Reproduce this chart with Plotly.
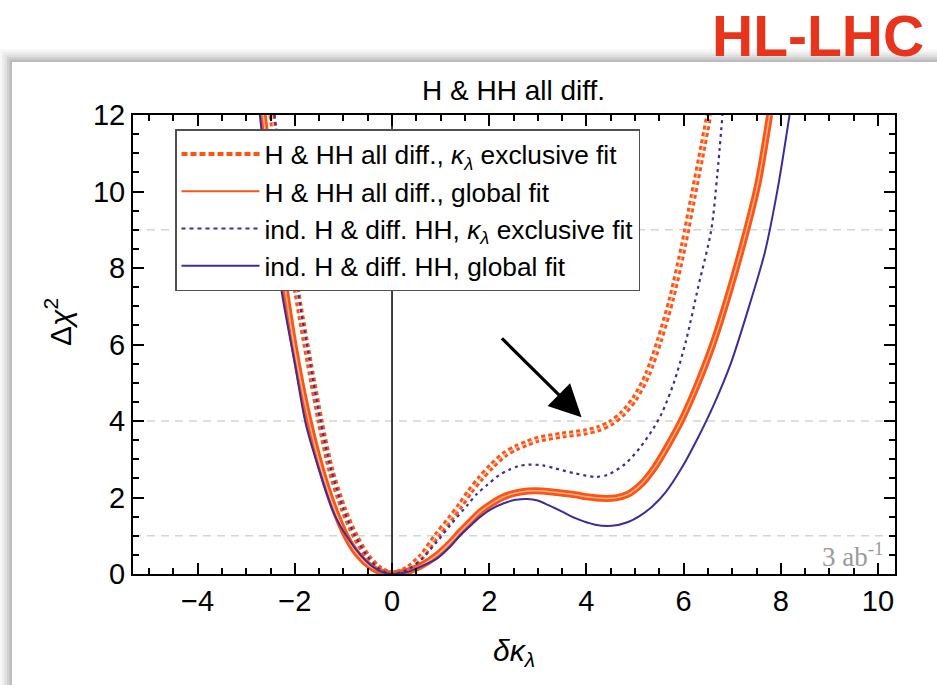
import plotly.graph_objects as go

# ---------------- data ----------------
# H & HH all diff., kappa_lambda exclusive fit (orange, dotted)
x_all_excl = [-2.47, -2.2, -1.95, -1.7, -1.48, -1.26, -1.0, -0.76, -0.5, -0.25, 0.0,
              0.3, 0.6, 0.93, 1.2, 1.41, 1.6, 1.82, 2.05, 2.3, 2.55, 2.78, 3.0, 3.5,
              4.0, 4.25, 4.5, 4.75, 5.0, 5.25, 5.5, 5.75, 6.0, 6.2, 6.4, 6.52]
y_all_excl = [12.0, 9.4, 7.3, 5.5, 4.0, 2.72, 1.7, 1.0, 0.45, 0.13, 0.0,
              0.12, 0.45, 1.02, 1.45, 1.80, 2.15, 2.50, 2.82, 3.11, 3.30, 3.42, 3.52, 3.63,
              3.72, 3.80, 3.95, 4.2, 4.6, 5.2, 6.1, 7.2, 8.6, 9.9, 11.2, 12.0]

# H & HH all diff., global fit (orange, solid)
x_all_glob = [-2.65, -2.4, -2.18, -1.95, -1.7, -1.45, -1.2, -0.94, -0.7, -0.45, -0.22, 0.0,
              0.3, 0.6, 0.93, 1.2, 1.41, 1.62, 1.82, 2.05, 2.3, 2.55, 2.8, 3.1, 3.4, 3.77,
              4.0, 4.31, 4.6, 4.85, 5.13, 5.4, 5.65, 5.95, 6.25, 6.6, 6.9, 7.26, 7.53, 7.77]
y_all_glob = [12.0, 9.4, 7.3, 5.5, 3.95, 2.72, 1.75, 0.98, 0.5, 0.2, 0.05, 0.0,
              0.06, 0.22, 0.50, 0.82, 1.11, 1.38, 1.63, 1.84, 2.02, 2.12, 2.17, 2.17, 2.13, 2.07,
              2.02, 1.98, 1.99, 2.08, 2.35, 2.78, 3.3, 4.0, 4.85, 6.0, 7.2, 8.82, 10.21, 12.0]

# ind. H & diff. HH, kappa_lambda exclusive fit (blue, dotted)
x_ind_excl = [-2.42, -2.18, -1.94, -1.7, -1.48, -1.26, -1.0, -0.76, -0.5, -0.25, 0.0,
              0.3, 0.6, 0.93, 1.2, 1.55, 1.75, 1.96, 2.2, 2.4, 2.6, 2.81, 3.1, 3.36, 3.77,
              4.18, 4.45, 4.8, 5.1, 5.35, 5.55, 5.8, 6.05, 6.3, 6.57, 6.69, 6.8]
y_ind_excl = [12.0, 9.6, 7.4, 5.6, 4.05, 2.75, 1.7, 1.0, 0.45, 0.12, 0.0,
              0.1, 0.38, 0.85, 1.28, 1.80, 2.10, 2.33, 2.58, 2.72, 2.82, 2.86, 2.84, 2.76, 2.63,
              2.54, 2.6, 2.88, 3.3, 3.75, 4.2, 5.0, 6.1, 7.5, 9.0, 10.4, 12.0]

# ind. H & diff. HH, global fit (blue, solid)
x_ind_glob = [-2.72, -2.5, -2.26, -2.0, -1.78, -1.5, -1.2, -0.93, -0.65, -0.4, -0.2, 0.0,
              0.3, 0.6, 0.93, 1.2, 1.41, 1.62, 1.82, 2.05, 2.3, 2.55, 2.78, 3.0, 3.22, 3.5,
              3.77, 4.18, 4.52, 4.86, 5.1, 5.35, 5.62, 5.95, 6.29, 6.63, 6.97, 7.3, 7.67, 7.94, 8.18]
y_ind_glob = [12.0, 9.5, 7.3, 5.5, 3.95, 2.72, 1.6, 0.98, 0.5, 0.19, 0.05, 0.0,
              0.05, 0.2, 0.41, 0.72, 1.02, 1.27, 1.50, 1.70, 1.85, 1.94, 1.96, 1.92, 1.80, 1.63,
              1.46, 1.29, 1.26, 1.36, 1.52, 1.76, 2.12, 2.75, 3.55, 4.45, 5.5, 6.8, 8.4, 10.1, 12.0]

ref_levels = [1, 4, 9]          # dashed Delta chi^2 reference lines
x_ticks = [-4, -2, 0, 2, 4, 6, 8, 10]
y_ticks = [0, 2, 4, 6, 8, 10, 12]

names = [
    "H & HH all diff., <i>κ</i><sub><i>λ</i></sub> exclusive fit",
    "H & HH all diff., global fit",
    "ind. H & diff. HH, <i>κ</i><sub><i>λ</i></sub> exclusive fit",
    "ind. H & diff. HH, global fit",
]

ORANGE = "#ff5314"
ORANGE_LIGHT = "#ffb48f"
BLUE = "#3f2b9c"
FONT = "Liberation Sans, Arial, sans-serif"

# ---------------- geometry helpers (screen pixel -> paper) ----------------
# the page margin is removed (post_script), so the figure starts at screen (0, 0)
W, H = 937, 685
L, R, T, B = 133, 42, 115, 111
PW, PH = W - L - R, H - T - B


def px(sx):
    return (sx - L) / PW


def py(sy):
    return (H - B - sy) / PH


fig = go.Figure()

spl = dict(shape="spline", smoothing=0.8)
# orange exclusive (dotted band: two rows of dots)
fig.add_trace(go.Scatter(x=x_all_excl, y=y_all_excl, mode="lines", showlegend=False,
                         hoverinfo="skip",
                         line=dict(color=ORANGE, width=7, dash="4px,3px", **spl)))
fig.add_trace(go.Scatter(x=x_all_excl, y=y_all_excl, mode="lines", showlegend=False,
                         hoverinfo="skip",
                         line=dict(color=ORANGE_LIGHT, width=1.5, dash="4px,3px", **spl)))
# orange global (solid band)
fig.add_trace(go.Scatter(x=x_all_glob, y=y_all_glob, mode="lines", showlegend=False,
                         hoverinfo="skip", line=dict(color=ORANGE, width=7, **spl)))
fig.add_trace(go.Scatter(x=x_all_glob, y=y_all_glob, mode="lines", showlegend=False,
                         hoverinfo="skip", line=dict(color=ORANGE_LIGHT, width=1.5, **spl)))
# blue exclusive (dotted)
fig.add_trace(go.Scatter(x=x_ind_excl, y=y_ind_excl, mode="lines", showlegend=False,
                         hoverinfo="skip",
                         line=dict(color=BLUE, width=2.2, dash="3px,4px", **spl)))
# blue global (solid)
fig.add_trace(go.Scatter(x=x_ind_glob, y=y_ind_glob, mode="lines", showlegend=False,
                         hoverinfo="skip", line=dict(color=BLUE, width=2, **spl)))

# legend entries (styled like the reference legend samples)
legend_styles = [
    dict(color=ORANGE, width=4, dash="6px,3px"),
    dict(color=ORANGE, width=2),
    dict(color=BLUE, width=1.8, dash="4px,4px"),
    dict(color=BLUE, width=2),
]
for nm, st in zip(names, legend_styles):
    fig.add_trace(go.Scatter(x=[None], y=[None], mode="lines", name=nm, line=st))

shapes = []
# soft drop shadow of the framed chart + white card
for k, a in [(5, 0.03), (4, 0.04), (3, 0.05), (2, 0.07), (1, 0.09)]:
    shapes.append(dict(type="rect", xref="paper", yref="paper",
                       x0=px(12 - 2.5 * k), x1=px(960), y0=py(62 - 2.5 * k), y1=py(720),
                       fillcolor=f"rgba(0,0,0,{a})", line=dict(width=0), layer="below"))
shapes.append(dict(type="rect", xref="paper", yref="paper",
                   x0=px(12), x1=px(960), y0=py(62), y1=py(720),
                   fillcolor="white", line=dict(width=0), layer="below"))
# dashed reference levels
for lv in ref_levels:
    shapes.append(dict(type="line", xref="paper", yref="y", x0=0, x1=1, y0=lv, y1=lv,
                       line=dict(color="#d4d4d4", width=1.5, dash="8px,6px"), layer="below"))
# vertical line at 0
shapes.append(dict(type="line", xref="x", yref="paper", x0=0, x1=0, y0=0, y1=1,
                   line=dict(color="black", width=1.5), layer="below"))

annotations = [
    dict(text="<b>HL-LHC</b>", xref="paper", yref="paper", x=px(926), y=py(36),
         xanchor="right", yanchor="middle", showarrow=False,
         font=dict(family=FONT, size=57, color="#e8341c")),
    dict(text="H & HH all diff.", xref="paper", yref="paper", x=px(513), y=py(91),
         xanchor="center", yanchor="middle", showarrow=False,
         font=dict(family=FONT, size=28, color="black")),
    dict(text="Δ<i>χ</i><sup>2</sup>", xref="paper", yref="paper", x=px(58), y=py(322),
         xanchor="center", yanchor="middle", textangle=-90, showarrow=False,
         font=dict(family=FONT, size=30, color="black")),
    dict(text="<i>δκ</i><sub><i>λ</i></sub>", xref="paper", yref="paper", x=px(514), y=py(652),
         xanchor="center", yanchor="middle", showarrow=False,
         font=dict(family=FONT, size=30, color="black")),
    dict(text="3 ab<sup>-1</sup>", xref="x", yref="y", x=10.15, y=0.5,
         xanchor="right", yanchor="middle", showarrow=False,
         font=dict(family="Liberation Serif, Times New Roman, serif", size=27, color="#9a9a9a")),
    dict(text="", xref="x", yref="y", x=3.9, y=4.1, ax=2.23, ay=6.2,
         axref="x", ayref="y", showarrow=True, arrowhead=2, arrowsize=2.0,
         arrowwidth=3.2, arrowcolor="black"),
]

axis_common = dict(showline=True, linecolor="black", linewidth=2, mirror="ticks",
                   ticks="inside", ticklen=11, tickwidth=2, tickcolor="black",
                   showgrid=False, zeroline=False,
                   tickfont=dict(family=FONT, size=29, color="black"),
                   minor=dict(ticks="inside", ticklen=6, tickwidth=1.5, tickcolor="black",
                              dtick=0.5, showgrid=False))

fig.update_layout(
    width=W, height=H,
    margin=dict(l=L, r=R, t=T, b=B, pad=0),
    paper_bgcolor="white", plot_bgcolor="rgba(0,0,0,0)",
    xaxis=dict(range=[-5.33, 10.35], tickvals=x_ticks, **axis_common),
    yaxis=dict(range=[0, 12], tickvals=y_ticks, **axis_common),
    showlegend=True,
    legend=dict(x=px(175), y=py(129), xanchor="left", yanchor="top",
                bgcolor="white", bordercolor="#505050", borderwidth=1.5,
                font=dict(family=FONT, size=26.3, color="black"),
                itemwidth=78, tracegroupgap=0),
    shapes=shapes,
    annotations=annotations,
)

fig.write_html("out.html",
               config={"displayModeBar": False},
               post_script="document.body.style.margin='0px';"
                           "document.body.style.overflow='hidden';")
